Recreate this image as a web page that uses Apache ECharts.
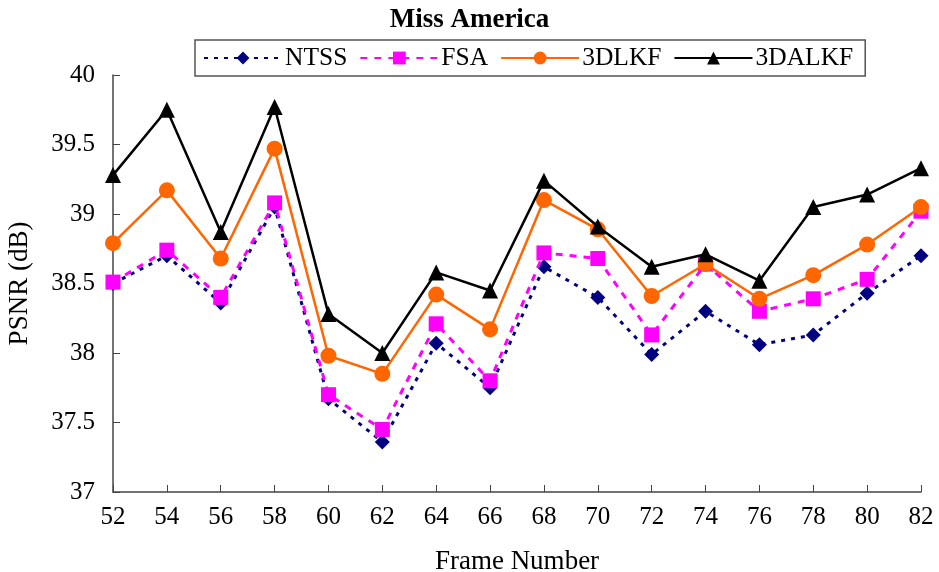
<!DOCTYPE html>
<html>
<head>
<meta charset="utf-8">
<script src="https://cdn.jsdelivr.net/npm/echarts@6/dist/echarts.min.js"></script>
<style>
  html, body { margin: 0; padding: 0; background: #fff; }
  #chart { width: 939px; height: 572px; }
</style>
</head>
<body>
<div id="chart"></div>
<script>
// frame numbers on the x axis
const frames = ['52','54','56','58','60','62','64','66','68','70','72','74','76','78','80','82'];

// PSNR (dB) per method
const ntss    = [38.50, 38.70, 38.36, 39.05, 37.67, 37.36, 38.07, 37.75, 38.62, 38.40, 37.99, 38.30, 38.06, 38.13, 38.43, 38.70];
const fsa     = [38.51, 38.74, 38.40, 39.08, 37.70, 37.45, 38.21, 37.80, 38.72, 38.68, 38.13, 38.64, 38.30, 38.39, 38.53, 39.02];
const dlkf    = [38.79, 39.17, 38.68, 39.47, 37.98, 37.85, 38.42, 38.17, 39.10, 38.89, 38.41, 38.64, 38.39, 38.56, 38.78, 39.05];
const dalkf   = [39.28, 39.75, 38.87, 39.77, 38.28, 38.00, 38.58, 38.45, 39.24, 38.91, 38.62, 38.71, 38.52, 39.05, 39.14, 39.33];

const font = 'Liberation Serif';

let chart = echarts.init(document.getElementById('chart'));

let option = {
  animation: false,
  backgroundColor: '#fff',
  textStyle: { fontFamily: font, color: '#000' },
  title: {
    text: 'Miss America',
    left: 'center',
    top: 2,
    textStyle: { fontFamily: font, fontSize: 27, fontWeight: 'bold', color: '#000' }
  },
  legend: {
    left: 195,
    top: 40,
    padding: [5, 12, 5, 8],
    itemWidth: 78,
    itemHeight: 16,
    itemGap: 12,
    borderColor: '#555',
    borderWidth: 1.5,
    textStyle: { fontFamily: font, fontSize: 25.5, color: '#000', padding: [0, 0, 0, -2] },
    data: ['NTSS', 'FSA', '3DLKF', '3DALKF']
  },
  grid: { left: 113, right: 18, top: 75, bottom: 80, containLabel: false, outerBoundsMode: 'none' },
  xAxis: {
    type: 'category',
    data: frames,
    boundaryGap: false,
    name: 'Frame Number',
    nameLocation: 'middle',
    nameGap: 56,
    nameTextStyle: { fontFamily: font, fontSize: 27, color: '#000' },
    axisLine: { lineStyle: { color: '#444', width: 1.5 } },
    axisTick: { inside: true, length: 7, alignWithLabel: true, lineStyle: { color: '#444' } },
    axisLabel: { fontFamily: font, fontSize: 25, color: '#000', margin: 13 },
    splitLine: { show: false }
  },
  yAxis: {
    type: 'value',
    min: 37,
    max: 40,
    interval: 0.5,
    name: 'PSNR (dB)',
    nameLocation: 'middle',
    nameGap: 80,
    nameTextStyle: { fontFamily: font, fontSize: 27, color: '#000' },
    axisLine: { show: true, lineStyle: { color: '#444', width: 1.5 } },
    axisTick: { show: true, inside: true, length: 7, lineStyle: { color: '#444' } },
    axisLabel: { fontFamily: font, fontSize: 25, color: '#000', margin: 18 },
    splitLine: { show: false }
  },
  series: [
    {
      name: 'NTSS',
      type: 'line',
      data: ntss,
      symbol: 'diamond',
      symbolSize: 15,
      itemStyle: { color: '#000080' },
      lineStyle: { color: '#000080', width: 3, type: [4, 6] },
      z: 2
    },
    {
      name: 'FSA',
      type: 'line',
      data: fsa,
      symbol: 'rect',
      symbolSize: 15,
      itemStyle: { color: '#ff00ff' },
      lineStyle: { color: '#ff00ff', width: 3, type: [7, 7] },
      z: 3
    },
    {
      name: '3DLKF',
      type: 'line',
      data: dlkf,
      symbol: 'circle',
      symbolSize: 16,
      itemStyle: { color: '#ff6600' },
      lineStyle: { color: '#ff6600', width: 2.5 },
      z: 4
    },
    {
      name: '3DALKF',
      type: 'line',
      data: dalkf,
      symbol: 'triangle',
      symbolSize: 16,
      itemStyle: { color: '#000' },
      lineStyle: { color: '#000', width: 2.5 },
      z: 5
    }
  ]
};

chart.setOption(option);
window.addEventListener('resize', () => {
  chart.resize();
});
</script>
</body>
</html>
